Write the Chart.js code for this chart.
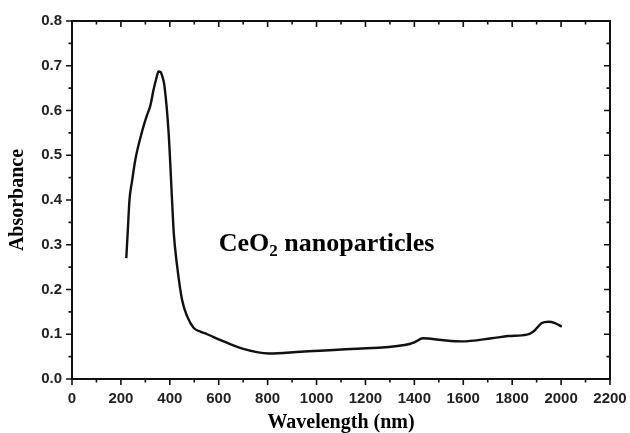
<!DOCTYPE html>
<html>
<head>
<meta charset="utf-8">
<script src="https://cdn.jsdelivr.net/npm/chart.js@4/dist/chart.umd.min.js"></script>
<style>
  html, body { margin: 0; padding: 0; background: #fff; }
  #wrap { width: 630px; height: 433px; }
</style>
</head>
<body>
<div id="wrap"><canvas id="uvChart" width="630" height="433"></canvas></div>
<script>
// wavelength (nm) and absorbance
const wavelength = [222, 228, 235, 245, 259, 285, 307, 320, 333, 345, 354, 362, 370, 378, 395, 409, 416, 430, 450, 471, 498, 525, 553, 608, 690, 806, 936, 1141, 1360, 1400, 1435, 1511, 1593, 1716, 1784, 1860, 1887, 1921, 1949, 1975, 2003];
const absorbance = [0.27, 0.33, 0.40, 0.44, 0.49, 0.55, 0.59, 0.61, 0.645, 0.672, 0.687, 0.686, 0.675, 0.655, 0.551, 0.401, 0.327, 0.252, 0.177, 0.140, 0.114, 0.106, 0.100, 0.087, 0.069, 0.057, 0.061, 0.067, 0.076, 0.082, 0.091, 0.087, 0.084, 0.091, 0.096, 0.099, 0.106, 0.125, 0.128, 0.125, 0.117];

const xTicks = [0, 200, 400, 600, 800, 1000, 1200, 1400, 1600, 1800, 2000, 2200];
const yTicks = [0.0, 0.1, 0.2, 0.3, 0.4, 0.5, 0.6, 0.7, 0.8];

const labelFont = { family: 'Liberation Sans', size: 15, weight: 'bold' };
const titleFont = { family: 'Liberation Serif', size: 20, weight: 'bold', lineHeight: 1 };

// frame on all four sides, Origin-style ticks (major + minor)
const framePlugin = {
    id: 'frame',
    afterDatasetsDraw(chart) {
        const ctx = chart.ctx;
        const a = chart.chartArea;
        const xs = chart.scales.x, ys = chart.scales.y;
        ctx.save();
        ctx.strokeStyle = '#111';
        ctx.lineWidth = 2;
        ctx.strokeRect(a.left, a.top, a.right - a.left, a.bottom - a.top);
        ctx.lineWidth = 1.6;
        ctx.beginPath();
        for (let v = 0; v <= 2200; v += 100) {
            const px = xs.getPixelForValue(v);
            const len = v % 200 === 0 ? 6 : 3.5;
            ctx.moveTo(px, a.bottom); ctx.lineTo(px, a.bottom + len);
            ctx.moveTo(px, a.top); ctx.lineTo(px, a.top + len);
        }
        for (let i = 0; i <= 16; i++) {
            const py = ys.getPixelForValue(i * 0.05);
            const len = i % 2 === 0 ? 6 : 3.5;
            ctx.moveTo(a.left, py); ctx.lineTo(a.left - len, py);
            ctx.moveTo(a.right, py); ctx.lineTo(a.right - len, py);
        }
        ctx.stroke();

        // sample label
        const tx = xs.getPixelForValue(600);
        const ty = ys.getPixelForValue(0.285);
        ctx.fillStyle = '#000';
        ctx.textBaseline = 'alphabetic';
        ctx.textAlign = 'left';
        ctx.font = 'bold 26px "Liberation Serif"';
        ctx.fillText('CeO', tx, ty);
        let w = ctx.measureText('CeO').width;
        ctx.font = 'bold 17px "Liberation Serif"';
        ctx.fillText('2', tx + w, ty + 5);
        w += ctx.measureText('2').width;
        ctx.font = 'bold 26px "Liberation Serif"';
        ctx.fillText(' nanoparticles', tx + w, ty);
        ctx.restore();
    }
};

const ctx = document.getElementById('uvChart').getContext('2d');
const chart = new Chart(ctx, {
    type: 'line',
    data: {
        labels: wavelength,
        datasets: [{
            label: 'CeO2 nanoparticles',
            data: wavelength.map((w, i) => ({ x: w, y: absorbance[i] })),
            borderColor: '#111',
            borderWidth: 2.4,
            pointRadius: 0,
            fill: false,
            cubicInterpolationMode: 'monotone'
        }]
    },
    options: {
        responsive: false,
        animation: false,
        layout: { padding: { top: 21, right: 20, left: 0, bottom: 0 } },
        plugins: {
            legend: { display: false },
            tooltip: { enabled: false }
        },
        scales: {
            x: {
                type: 'linear',
                min: 0,
                max: 2200,
                afterFit(scale) {
                    scale.height = 54;
                    scale.paddingLeft = 0;
                    scale.paddingRight = 0;
                },
                afterBuildTicks(scale) { scale.ticks = xTicks.map(v => ({ value: v })); },
                grid: { display: false, drawTicks: false },
                border: { display: false },
                ticks: { font: labelFont, color: '#222', padding: 11, maxRotation: 0, callback: v => String(v) },
                title: {
                    display: true,
                    text: 'Wavelength (nm)',
                    font: titleFont,
                    color: '#000',
                    padding: { top: 0, bottom: 0 }
                }
            },
            y: {
                type: 'linear',
                min: 0,
                max: 0.8,
                afterFit(scale) {
                    scale.width = 72;
                    scale.paddingTop = 0;
                    scale.paddingBottom = 0;
                },
                afterBuildTicks(scale) { scale.ticks = yTicks.map(v => ({ value: v })); },
                grid: { display: false, drawTicks: false },
                border: { display: false },
                ticks: {
                    font: labelFont,
                    color: '#222',
                    padding: 10,
                    callback: v => v.toFixed(1)
                },
                title: {
                    display: true,
                    text: 'Absorbance',
                    font: titleFont,
                    color: '#000',
                    padding: { top: 8, bottom: 0 }
                }
            }
        }
    },
    plugins: [framePlugin]
});
</script>
</body>
</html>
